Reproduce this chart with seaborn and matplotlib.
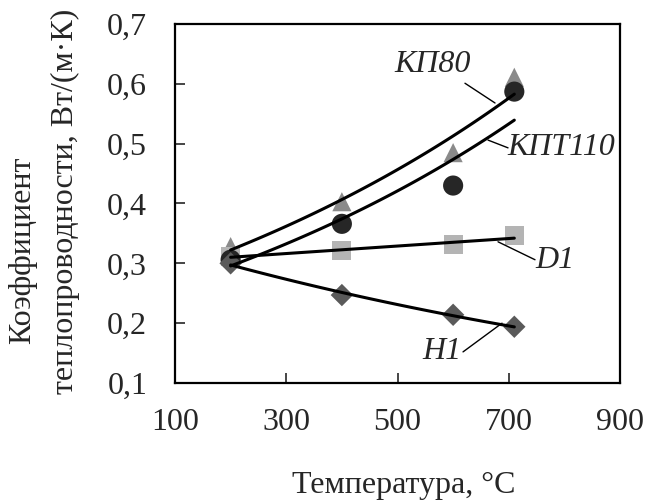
import numpy as np
import pandas as pd
import matplotlib
matplotlib.use("Agg")
import matplotlib.pyplot as plt
import seaborn as sns

# температура, °C
temp = [200, 400, 600, 710]

# коэффициент теплопроводности, Вт/(м·К)
kp80 = [0.328, 0.403, 0.485, 0.611]
kpt110 = [0.306, 0.366, 0.430, 0.587]
d1 = [0.312, 0.321, 0.331, 0.346]
h1 = [0.300, 0.247, 0.214, 0.194]

names = ["КП80", "КПТ110", "D1", "H1"]

xticks = [100, 300, 500, 700, 900]
xticklabels = ["100", "300", "500", "700", "900"]
yticks = [0.1, 0.2, 0.3, 0.4, 0.5, 0.6, 0.7]
yticklabels = ["0,1", "0,2", "0,3", "0,4", "0,5", "0,6", "0,7"]

df = pd.DataFrame({
    "T": temp * 4,
    "k": kp80 + kpt110 + d1 + h1,
    "series": [n for n in names for _ in temp],
})

sns.set_theme(style="white")
plt.rcParams["font.family"] = ["Liberation Serif", "DejaVu Serif"]
plt.rcParams["axes.edgecolor"] = "black"

# маркер, цвет, размер
styles = {
    "КП80": ("^", "#8a8a8a", 190),
    "D1": ("s", "#b4b4b4", 190),
    "КПТ110": ("o", "#262626", 210),
    "H1": ("D", "#5a5a5a", 130),
}

fig = plt.figure(figsize=(6.45, 5.04), dpi=100)
ax = fig.add_axes([175 / 645, 1 - 383 / 504, 445 / 645, 359 / 504])

for name in ["КП80", "D1", "КПТ110", "H1"]:
    m, c, s = styles[name]
    sub = df[df["series"] == name]
    sns.scatterplot(data=sub, x="T", y="k", marker=m, color=c, s=s,
                    edgecolor="none", ax=ax, zorder=2)

# экспоненциальные линии тренда
for name in ["КП80", "КПТ110", "H1"]:
    sub = df[df["series"] == name]
    fit = np.polyfit(sub["T"], np.log(sub["k"]), 1)
    tt = np.linspace(sub["T"].min(), sub["T"].max(), 100)
    sns.lineplot(x=tt, y=np.exp(np.polyval(fit, tt)), color="black",
                 lw=2.2, ax=ax, zorder=3)
# линейный тренд
sub = df[df["series"] == "D1"]
fit = np.polyfit(sub["T"], sub["k"], 1)
tt = np.array([sub["T"].min(), sub["T"].max()])
sns.lineplot(x=tt, y=np.polyval(fit, tt), color="black", lw=2.2, ax=ax, zorder=3)

# подписи кривых
labels = [
    ("КП80", 563.8, 0.633, (621.3, 675.3), (0.601, 0.568)),
    ("КПТ110", 793.9, 0.493, (662.7, 698.7), (0.506, 0.493)),
    ("D1", 783.1, 0.304, (680.7, 747.2), (0.336, 0.306)),
    ("H1", 580.0, 0.152, (617.8, 687.9), (0.152, 0.200)),
]
for txt, tx, ty, lx, ly in labels:
    ax.text(tx, ty, txt, fontsize=23, fontstyle="italic", ha="center", va="center")
    ax.plot(lx, ly, color="black", lw=1)

ax.set_xlim(100, 900)
ax.set_ylim(0.1, 0.7)
ax.set_xticks(xticks)
ax.set_xticklabels(xticklabels)
ax.set_yticks(yticks)
ax.set_yticklabels(yticklabels)
ax.set_xlabel("")
ax.set_ylabel("")
ax.tick_params(axis="x", direction="in", length=7, width=1.2, pad=18, labelsize=23, bottom=True)
ax.tick_params(axis="y", direction="in", length=7, width=1.2, pad=20, labelsize=23, left=True)
for sp in ax.spines.values():
    sp.set_linewidth(1.6)
    sp.set_color("black")

fig.text(404 / 645, 1 - 486 / 504, "Температура, °C", fontsize=23, ha="center", va="center")
fig.text(23 / 645, 1 - 250 / 504, "Коэффициент", fontsize=23, rotation=90, ha="center", va="center")
fig.text(65 / 645, 1 - 201 / 504, "теплопроводности, Вт/(м·К)", fontsize=23, rotation=90,
         ha="center", va="center")

fig.savefig("out.png", dpi=100)
